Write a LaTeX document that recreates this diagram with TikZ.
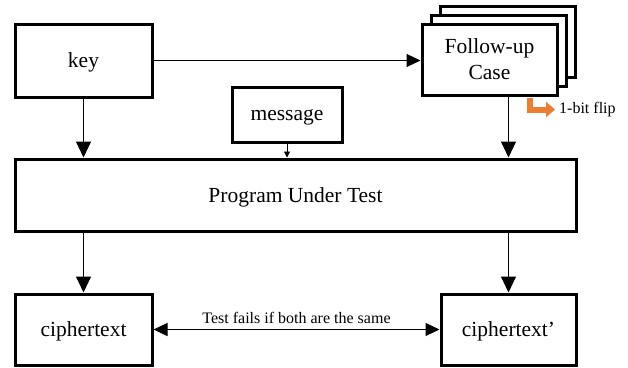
\documentclass[tikz,border=0pt]{standalone}
\usepackage{fontspec}
\setmainfont{Liberation Serif}
\usetikzlibrary{arrows.meta,calc}
\definecolor{flipor}{HTML}{ED7D31}
\tikzset{
  box/.style={draw=black, line width=3pt, fill=white, inner sep=0pt, align=center,
    font=\fontsize{21.5}{26}\selectfont, text depth=0pt},
  conn/.style={line width=1pt, -{Triangle[length=16pt,width=15pt]}},
  connsm/.style={line width=1pt, -{Triangle[length=14pt,width=13pt]}},
  conntiny/.style={line width=0.8pt, -{Triangle[length=6pt,width=6pt]}},
  lbl/.style={font=\fontsize{16}{19}\selectfont, inner sep=1pt},
}
\begin{document}
\begin{tikzpicture}[x=1pt,y=-1pt]
\useasboundingbox (0,0) rectangle (628,367);
% nodes
\node[box, minimum width=137pt, minimum height=73pt] (key) at (83.5,60.5) {key};
\node[box, minimum width=135pt, minimum height=71pt] (fc3) at (507.5,41.5) {};
\node[box, minimum width=135pt, minimum height=71pt] (fc2) at (498.5,50.5) {};
\node[box, minimum width=135pt, minimum height=71pt] (fc) at (489.5,59.5) {Follow-up\\Case};
\node[box, minimum width=110pt, minimum height=55pt] (msg) at (287,114.5) {message};
\node[box, minimum width=561pt, minimum height=72pt] (prog) at (295.5,195) {Program Under Test};
\node[box, minimum width=137pt, minimum height=71pt] (ct1) at (83.5,329.5) {ciphertext};
\node[box, minimum width=135pt, minimum height=71pt] (ct2) at (508.5,329.5) {ciphertext’};
\node[lbl, anchor=west] (flip) at (558,109.5) {1-bit flip};
% connectors
\draw[conn] (key.south) -- (key.south |- prog.north);
\draw[connsm] (key.east) -- (key.east -| fc.west);
\draw[conn] (fc.south -| ct2.north) -- (prog.north -| ct2.north);
\draw[conntiny] (msg.south) -- (msg.south |- prog.north);
\draw[conn] (prog.south -| ct1.north) -- (ct1.north);
\draw[conn] (prog.south -| ct2.north) -- (ct2.north);
\draw[line width=1pt, {Triangle[length=14pt,width=13pt]}-{Triangle[length=14pt,width=13pt]}]
  (ct1.east) -- node[lbl, above=4pt] (fails) {Test fails if both are the same} (ct2.west);
% orange flip arrow
\coordinate (fstart) at ($(fc.south east)+(-29,1.5)$);
\draw[flipor, line width=6pt, -{Triangle[length=9pt,width=15pt]}]
  (fstart) |- ($(flip.west)+(-3,0)$);
\end{tikzpicture}
\end{document}
